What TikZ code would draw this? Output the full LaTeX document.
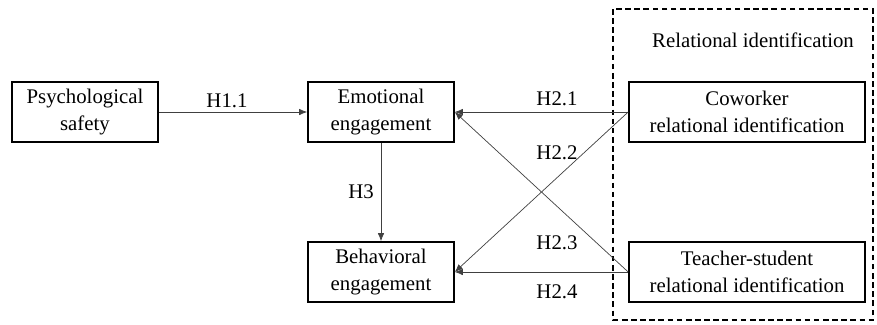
\documentclass[tikz,border=0pt]{standalone}
\usepackage{fontspec}
\setmainfont{Liberation Serif}
\usetikzlibrary{arrows.meta}
\tikzset{
	varbox/.style={draw,line width=1.1pt,align=center,inner sep=0pt,minimum height=1.5cm,font=\fontsize{14.8}{19.2}\selectfont},
	hyplabel/.style={font=\fontsize{14.8}{19.2}\selectfont,inner sep=0pt},
	path/.style={draw=black!75,line width=0.5pt,-{Latex[length=0.2cm,width=0.16cm]}}
}
\begin{document}
\begin{tikzpicture}[x=0.025cm,y=-0.025cm]
	\useasboundingbox (0,0) rectangle (877,324);
	\draw[dashed,line width=1pt,dash pattern=on 4pt off 2.5pt] (613,9) rectangle (873,320);
	\node[hyplabel] (relid) at (753,40) {Relational identification};
	\node[varbox,minimum width=3.65cm] (psafe) at (85,112) {Psychological\\safety};
	\node[varbox,minimum width=3.65cm] (emo) at (381,112) {Emotional\\engagement};
	\node[varbox,minimum width=3.65cm] (beh) at (381,272) {Behavioral\\engagement};
	\node[varbox,minimum width=5.9cm] (cowork) at (747,112) {Coworker\\relational identification};
	\node[varbox,minimum width=5.9cm] (teach) at (747,272) {Teacher-student\\relational identification};
	\draw[path] (psafe) -- (emo);
	\draw[path] (emo) -- (beh);
	\draw[path] (cowork.west) -- (emo.east);
	\draw[path] (cowork.west) -- (beh.east);
	\draw[path] (teach.west) -- (emo.east);
	\draw[path] (teach.west) -- (beh.east);
	\node[hyplabel] (h11) at (227,101) {H1.1};
	\node[hyplabel] (h3) at (361,192) {H3};
	\node[hyplabel] (h21) at (557,99) {H2.1};
	\node[hyplabel] (h22) at (557,153) {H2.2};
	\node[hyplabel] (h23) at (557,243) {H2.3};
	\node[hyplabel] (h24) at (557,292) {H2.4};
\end{tikzpicture}
\end{document}
